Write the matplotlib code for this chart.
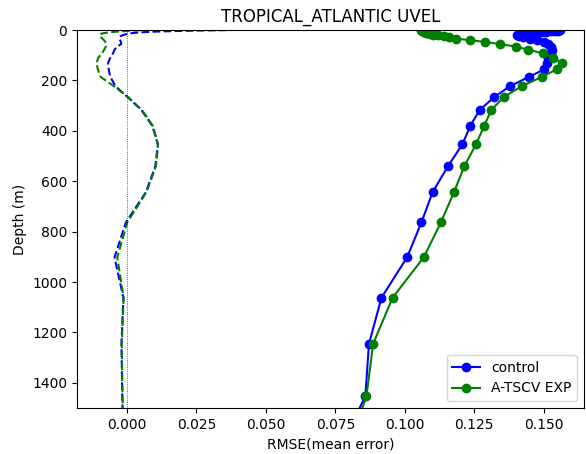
import numpy as np
import matplotlib
matplotlib.use('Agg')
import matplotlib.pyplot as plt

# model levels (m)
depth = [0.5, 1.5, 2.6, 3.8, 5.1, 6.4, 7.9, 9.6, 11.4, 13.5, 15.8, 18.5,
         21.6, 25.2, 29.4, 34.4, 40.3, 47.4, 55.8, 65.8, 77.9, 92.3, 109.7,
         130.7, 155.9, 186.1, 222.5, 266.0, 318.1, 380.2, 453.9, 541.1,
         643.6, 763.3, 902.3, 1062.4, 1245.3, 1452.3, 1684.3]

# RMSE
rmse_ctl = [0.156, 0.1555, 0.155, 0.154, 0.1525, 0.151, 0.149, 0.147, 0.145,
            0.1435, 0.142, 0.141, 0.1405, 0.141, 0.1425, 0.145, 0.1475,
            0.150, 0.1515, 0.1525, 0.153, 0.1525, 0.1515, 0.1512, 0.1502,
            0.1447, 0.1379, 0.1322, 0.1269, 0.1236, 0.1207, 0.1155, 0.1100,
            0.1060, 0.1008, 0.0916, 0.0871, 0.0858, 0.0758]
rmse_exp = [0.106, 0.106, 0.1062, 0.1064, 0.1066, 0.1068, 0.107, 0.1073,
            0.1077, 0.1082, 0.109, 0.110, 0.112, 0.114, 0.116, 0.1186,
            0.1234, 0.1288, 0.1342, 0.1400, 0.1444, 0.1496, 0.1534, 0.1565,
            0.1547, 0.1493, 0.1422, 0.1356, 0.1311, 0.1286, 0.1256, 0.1214,
            0.1177, 0.1130, 0.1068, 0.0956, 0.0886, 0.0862, 0.0790]

# mean error
me_ctl = [0.0358, 0.030, 0.024, 0.019, 0.014, 0.010, 0.007, 0.0045, 0.0025,
          0.001, 0.0, -0.001, -0.0018, -0.0024, -0.0027, -0.0027, -0.0025,
          -0.0022, -0.0021, -0.0035, -0.0045, -0.005, -0.006, -0.0068,
          -0.0066, -0.0060, -0.0042, 0.0002, 0.0052, 0.0091, 0.0111,
          0.0102, 0.0068, -0.0004, -0.0045, -0.0013, -0.0020, -0.0017,
          -0.0013]
me_exp = [0.005, 0.0035, 0.002, 0.0, -0.002, -0.0035, -0.005, -0.0065,
          -0.0078, -0.0088, -0.0095, -0.0098, -0.0098, -0.0097, -0.0093,
          -0.0088, -0.0083, -0.0078, -0.0075, -0.0076, -0.0082, -0.009,
          -0.0103, -0.011, -0.0105, -0.0095, -0.0048, 0.0004, 0.0054,
          0.0093, 0.0112, 0.0104, 0.0070, 0.0001, -0.0035, -0.0012, -0.0019,
          -0.0016, -0.0012]

fig = plt.figure(figsize=(5.86, 4.54), dpi=100)
ax = fig.add_axes([77/586, 1-408/454, (584-77)/586, (408-30)/454])

ax.plot(rmse_ctl, depth, 'o-', color='blue', label='control')
ax.plot(rmse_exp, depth, 'o-', color='green', label='A-TSCV EXP')
ax.plot(me_ctl, depth, '--', color='blue')
ax.plot(me_exp, depth, '--', color='green')
ax.axvline(0, color='k', linestyle=':', linewidth=0.5)

ax.set_xlim(-0.018, 0.1645)
ax.set_ylim(1500, 0)
ax.set_title('TROPICAL_ATLANTIC UVEL')
ax.set_xlabel('RMSE(mean error)')
ax.set_ylabel('Depth (m)')
ax.legend(loc='lower right')

plt.savefig('out.png')
